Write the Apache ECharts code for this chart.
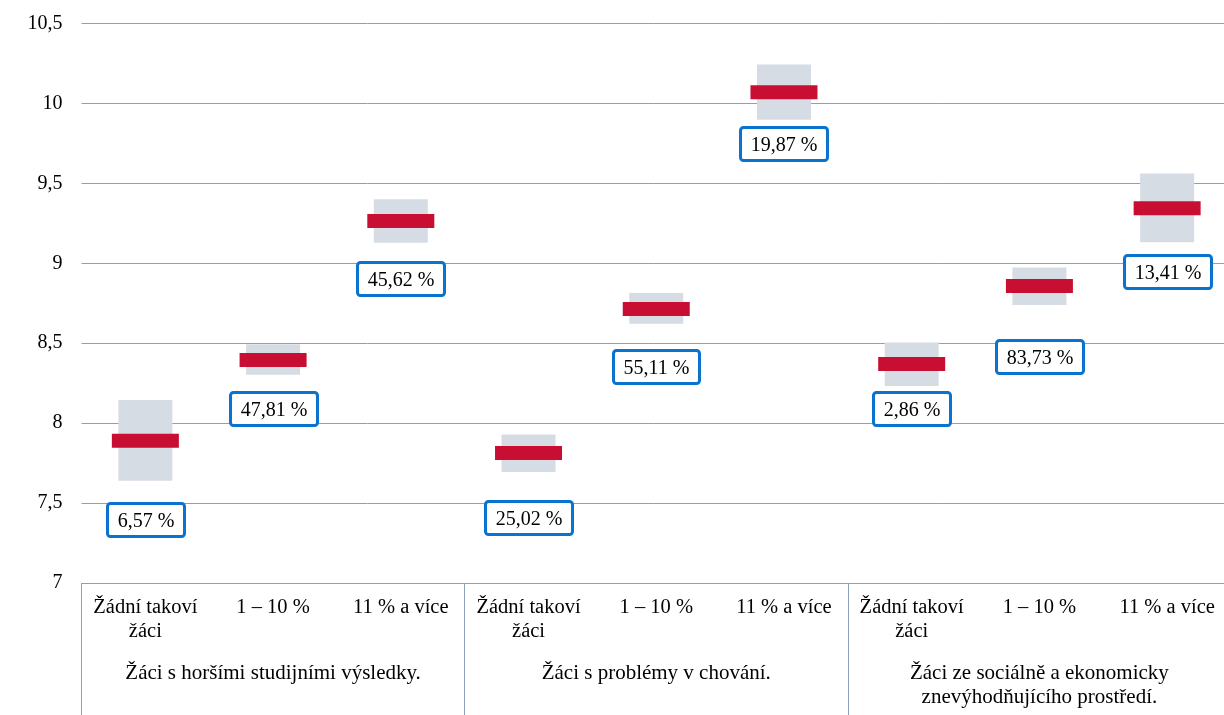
<!DOCTYPE html>
<html>
<head>
<meta charset="utf-8">
<script src="https://cdn.jsdelivr.net/npm/echarts@6/dist/echarts.min.js"></script>
<style>
html,body{margin:0;padding:0;background:#fff;}
#chart{width:1224px;height:715px;}
</style>
</head>
<body>
<div id="chart"></div>
<script>
const categories = ['Žádní takoví\nžáci', '1 – 10 %', '11 % a více',
                    'Žádní takoví\nžáci', '1 – 10 %', '11 % a více',
                    'Žádní takoví\nžáci', '1 – 10 %', '11 % a více'];
const groups = ['Žáci s horšími studijními výsledky.',
                'Žáci s problémy v chování.',
                'Žáci ze sociálně a ekonomicky\nznevýhodňujícího prostředí.'];
const means  = [7.89, 8.395, 9.264, 7.814, 8.714, 10.07, 8.37, 8.858, 9.345];
const ciLow  = [7.639, 8.302, 9.129, 7.694, 8.621, 9.898, 8.233, 8.739, 9.131];
const ciHigh = [8.144, 8.494, 9.40, 7.929, 8.814, 10.244, 8.504, 8.973, 9.561];
const shares = ['6,57 %', '47,81 %', '45,62 %', '25,02 %', '55,11 %', '19,87 %', '2,86 %', '83,73 %', '13,41 %'];
const labelAt = [7.40, 8.089, 8.904, 7.41, 8.356, 9.747, 8.094, 8.418, 8.95];
const yTicks = {min: 7, max: 10.5, step: 0.5};

const FONT = 'Liberation Serif';
const GRID_COLOR = '#8E9FBC';
const LABEL_FONT = '20px "Liberation Serif"';

const measureCtx = document.createElement('canvas').getContext('2d');
measureCtx.font = LABEL_FONT;

const chart = echarts.init(document.getElementById('chart'), null, {renderer: 'canvas'});
chart.setOption({
  animation: false,
  backgroundColor: '#fff',
  grid: {left: 81.5, right: -7, top: 23.5, bottom: 132, containLabel: false, outerBoundsMode: 'none'},
  xAxis: [{
    type: 'category',
    data: categories,
    position: 'bottom',
    axisLine: {show: true, lineStyle: {color: GRID_COLOR, width: 1}},
    axisTick: {show: false},
    axisLabel: {interval: 0, margin: 13, fontFamily: FONT, fontSize: 20.5, color: '#000', lineHeight: 24}
  }, {
    type: 'category',
    data: groups,
    position: 'bottom',
    axisLine: {show: false},
    axisTick: {show: true, length: 140, lineStyle: {color: GRID_COLOR, width: 1}},
    axisLabel: {interval: 0, margin: 78, fontFamily: FONT, fontSize: 21, color: '#000', lineHeight: 24}
  }],
  yAxis: {
    type: 'value',
    min: yTicks.min, max: yTicks.max, interval: yTicks.step,
    axisLine: {show: false},
    axisTick: {show: false},
    splitLine: {lineStyle: {color: GRID_COLOR, width: 1}},
    axisLabel: {margin: 19, fontFamily: FONT, fontSize: 20, color: '#000',
      formatter: v => String(v).replace('.', ',')}
  },
  series: [{
    type: 'custom',
    xAxisIndex: 0,
    data: categories.map((c, i) => [i, ciLow[i], ciHigh[i]]),
    encode: {x: 0, y: [1, 2]},
    renderItem: function (params, api) {
      const top = api.coord([api.value(0), api.value(2)]);
      const bot = api.coord([api.value(0), api.value(1)]);
      const w = 54;
      return {
        type: 'rect',
        shape: {x: top[0] - w / 2, y: top[1], width: w, height: bot[1] - top[1]},
        style: {fill: '#D5DCE4'}
      };
    },
    z: 2
  }, {
    type: 'scatter',
    xAxisIndex: 0,
    data: categories.map((c, i) => [i, means[i]]),
    symbol: 'rect',
    symbolSize: [67, 14],
    itemStyle: {color: '#C80E32', opacity: 1},
    z: 3
  }, {
    type: 'custom',
    xAxisIndex: 0,
    data: categories.map((c, i) => [i, labelAt[i]]),
    encode: {x: 0, y: 1},
    z: 4,
    renderItem: function (params, api) {
      const i = params.dataIndex;
      const pt = api.coord([api.value(0), api.value(1)]);
      const text = shares[i];
      const tw = measureCtx.measureText(text).width;
      const w = Math.round(tw + 20);
      const h = 33;
      const x = Math.round(pt[0] - w / 2) + 0.5;
      const y = Math.round(pt[1] - h / 2) + 0.5;
      return {
        type: 'group',
        children: [{
          type: 'rect',
          shape: {x: x, y: y, width: w, height: h, r: 3},
          style: {fill: '#fff', stroke: '#0A72CF', lineWidth: 3}
        }, {
          type: 'text',
          style: {
            x: x + w / 2, y: y + h / 2 + 1.5,
            text: text,
            font: LABEL_FONT,
            fill: '#000',
            align: 'center',
            verticalAlign: 'middle'
          }
        }]
      };
    }
  }]
});
</script>
</body>
</html>
